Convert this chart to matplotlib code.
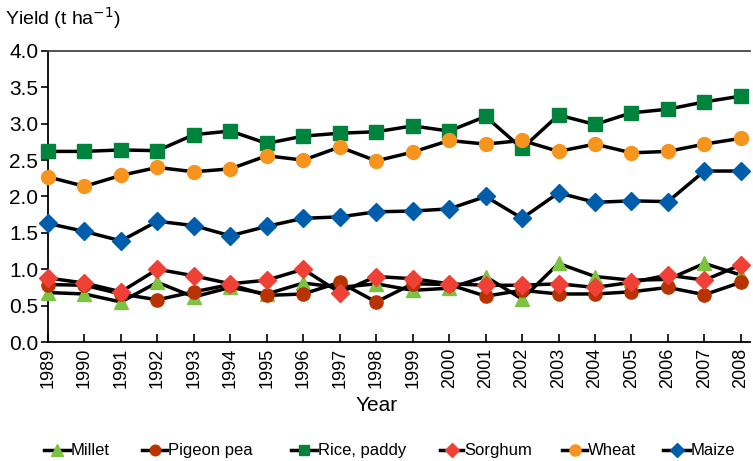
import matplotlib
matplotlib.use("Agg")
import matplotlib.pyplot as plt
from matplotlib.lines import Line2D
from matplotlib import font_manager

plt.rcParams['font.family'] = ['Liberation Sans', 'DejaVu Sans']

years = list(range(1989, 2009))
millet = [0.68, 0.66, 0.55, 0.82, 0.62, 0.75, 0.66, 0.81, 0.75, 0.80,
          0.71, 0.74, 0.90, 0.59, 1.08, 0.90, 0.85, 0.86, 1.08, 0.92]
pigeon_pea = [0.79, 0.78, 0.66, 0.58, 0.69, 0.79, 0.64, 0.66, 0.82, 0.55,
              0.80, 0.79, 0.63, 0.71, 0.66, 0.66, 0.69, 0.75, 0.65, 0.82]
rice = [2.62, 2.62, 2.64, 2.63, 2.85, 2.90, 2.73, 2.83, 2.87, 2.89,
        2.97, 2.90, 3.10, 2.66, 3.12, 2.99, 3.15, 3.20, 3.30, 3.38]
sorghum = [0.88, 0.81, 0.69, 1.00, 0.91, 0.80, 0.85, 1.00, 0.68, 0.90,
           0.87, 0.80, 0.78, 0.78, 0.80, 0.75, 0.82, 0.92, 0.85, 1.06]
wheat = [2.27, 2.14, 2.29, 2.40, 2.34, 2.38, 2.56, 2.50, 2.68, 2.49,
         2.61, 2.77, 2.72, 2.77, 2.62, 2.72, 2.60, 2.62, 2.72, 2.80]
maize = [1.63, 1.52, 1.39, 1.66, 1.60, 1.46, 1.59, 1.70, 1.72, 1.79,
         1.80, 1.83, 2.00, 1.70, 2.05, 1.92, 1.94, 1.93, 2.35, 2.35]

series = [
    ("Millet", millet, "^", "#7dc242", 10),
    ("Pigeon pea", pigeon_pea, "o", "#b83300", 9.5),
    ("Rice, paddy", rice, "s", "#00843d", 9.5),
    ("Sorghum", sorghum, "D", "#ef4136", 9),
    ("Wheat", wheat, "o", "#f7941d", 10),
    ("Maize", maize, "D", "#005dab", 9),
]

# legend font: prefer a narrow face
try:
    font_manager.findfont("Liberation Sans Narrow", fallback_to_default=False)
    leg_family, leg_size = "Liberation Sans Narrow", 14
except Exception:
    leg_family, leg_size = "Liberation Sans", 12

W, H = 753, 461
fig = plt.figure(figsize=(W/100, H/100), dpi=100)
ax = fig.add_axes([48/W, 1-342/H, 702/W, 291/H])

for name, vals, mk, col, ms in series:
    ax.plot(years, vals, color="black", lw=2.5, marker=mk, markersize=ms,
            markerfacecolor=col, markeredgecolor=col, label=name, zorder=3,
            clip_on=False)

ax.set_xlim(1989, 2008.25)
ax.set_ylim(0, 4.0)
yt = [0, 0.5, 1.0, 1.5, 2.0, 2.5, 3.0, 3.5, 4.0]
ax.set_yticks(yt)
ax.set_yticklabels([f"{v:.1f}" for v in yt], fontsize=15)
ax.set_xticks(years)
ax.set_xticklabels([str(y) for y in years], rotation=90, fontsize=13)
ax.tick_params(axis='y', direction='out', length=5, width=1.2, pad=2)
ax.tick_params(axis='x', direction='in', length=6, width=1.2, pad=4)
for s in ["left", "bottom", "top"]:
    ax.spines[s].set_linewidth(1.3)
ax.spines["top"].set_color("#444444")
ax.spines["right"].set_visible(False)

fig.text(5/W, 1-18/H, "Yield (t ha$^{\u22121}$)", fontsize=14, va="center", ha="left")
fig.text(377/W, 1-405/H, "Year", fontsize=15, va="center", ha="center")

# manual legend layout (pixel x of handle start, handle end)
leg_x = [(44, 70), (142, 167), (291, 317), (440, 463), (562, 587), (663, 690)]
ly = 1 - 450/H
for (name, vals, mk, col, ms), (x0, x1) in zip(series, leg_x):
    fig.add_artist(Line2D([x0/W, x1/W], [ly, ly], color="black", lw=2.5,
                          transform=fig.transFigure))
    fig.add_artist(Line2D([(x0+x1)/2/W], [ly], marker=mk, markersize=ms*0.8,
                          markerfacecolor=col, markeredgecolor=col, lw=0,
                          transform=fig.transFigure))
    fig.text((x1+1)/W, ly, name, ha="left", va="center",
             family=[leg_family, "Liberation Sans"], fontsize=leg_size)

fig.savefig("out.png", dpi=100)
